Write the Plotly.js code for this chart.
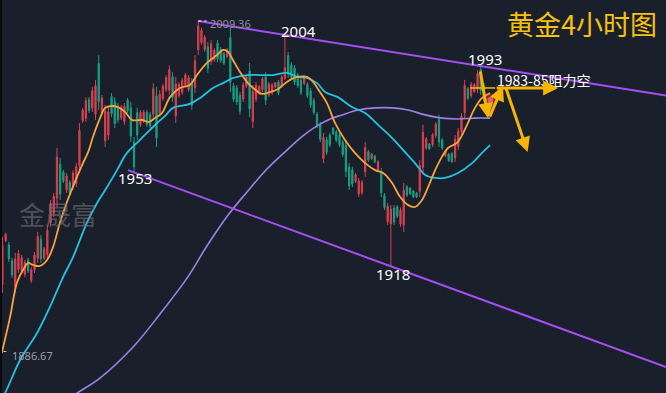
<!DOCTYPE html>
<html>
<head>
<meta charset="utf-8">
<script src="https://cdn.plot.ly/plotly-3.0.1.min.js"></script>
<style>html,body{margin:0;padding:0;background:#1a1f2c;}#chart{width:666px;height:393px;}</style>
</head>
<body>
<div id="chart"></div>
<script>
// ---- candle data (4h gold) ----
const open = [1911.5,1927.8,1926.2,1920.3,1910.6,1917.1,1916.8,1915.2,1920.6,1913.0,
1917.0,1921.2,1928.3,1921.3,1922.6,1934.4,1937.9,1943.6,1956.2,1953.3,
1946.6,1949.5,1947.7,1949.0,1955.7,1972.3,1973.3,1980.2,1977.0,1974.8,
1993.6,1975.6,1964.9,1967.0,1981.3,1979.4,1977.8,1973.4,1972.0,1980.0,
1977.1,1964.4,1975.3,1971.0,1972.2,1975.4,1974.7,1974.7,1981.6,1975.2,
1980.6,1983.9,1983.6,1988.7,1974.1,1981.7,1982.8,1985.7,1983.9,1986.4,
1984.7,1998.6,2001.4,1998.8,1999.9,1994.4,1994.9,2001.1,1998.8,1997.2,
1996.2,2003.2,1985.3,1984.5,1981.7,1980.4,1985.2,1990.8,1972.0,1980.4,
1982.5,1983.8,1988.6,1981.9,1982.6,1984.8,1986.7,1985.2,1988.0,1996.5,
1993.1,1991.9,1989.3,1987.3,1986.2,1985.8,1983.4,1979.8,1974.7,1970.8,
1958.3,1965.3,1967.0,1969.6,1968.2,1967.0,1964.3,1963.1,1955.1,1954.1,
1949.8,1945.1,1945.6,1953.4,1960.8,1958.2,1959.2,1954.0,1953.2,1944.6,
1934.8,1934.0,1939.9,1940.3,1934.0,1933.7,1947.8,1947.3,1946.2,1945.5,
1946.1,1955.0,1962.2,1963.7,1963.4,1966.8,1972.7,1965.2,1959.3,1959.9,
1960.1,1958.5,1962.7,1968.2,1975.4,1984.2,1981.7,1983.2,1983.9,1991.3,
1985.3];
const high = [1929.2,1930.7,1927.3,1921.4,1923.2,1924.3,1922.5,1920.6,1921.4,1918.0,
1923.6,1931.0,1929.9,1925.5,1933.6,1942.9,1945.5,1962.2,1958.5,1954.0,
1952.9,1950.3,1954.0,1956.6,1971.5,1977.1,1981.1,1981.1,1984.9,1987.5,
1996.7,1981.9,1978.2,1977.4,1982.6,1981.1,1978.9,1978.2,1978.9,1980.8,
1979.3,1966.3,1977.1,1976.3,1976.3,1976.3,1975.6,1986.3,1984.9,1983.7,
1986.0,1989.3,1993.0,1990.4,1988.6,1986.7,1988.2,1990.1,1989.3,1988.2,
1996.7,2009.36,2006.8,2004.2,2001.6,2002.3,1999.3,2002.3,1999.7,1997.9,
1999.3,2006.8,1986.3,1985.6,1983.0,1986.7,1989.3,1993.8,1985.6,1986.7,
1985.6,1988.6,1990.4,1986.7,1986.3,1986.7,1987.5,1989.3,2004.0,1997.9,
1994.1,1993.0,1990.1,1988.2,1989.3,1986.7,1984.5,1980.8,1975.6,1971.9,
1967.8,1966.3,1967.8,1970.0,1968.9,1967.8,1965.2,1965.2,1956.6,1955.2,
1952.9,1951.1,1950.3,1964.4,1961.5,1960.4,1959.6,1957.8,1954.8,1945.5,
1941.8,1941.0,1941.0,1941.0,1940.2,1949.2,1948.5,1947.7,1946.6,1945.9,
1957.8,1970.8,1966.3,1964.1,1967.8,1971.9,1974.5,1965.9,1961.5,1960.4,
1960.7,1967.0,1969.6,1975.2,1987.5,1984.9,1986.7,1986.3,1991.2,1993.0,
1986.3];
const low = [1908.4,1927.3,1919.9,1914.0,1908.4,1915.8,1915.8,1914.3,1915.8,1912.1,
1915.8,1919.5,1919.5,1920.6,1920.6,1932.9,1936.6,1940.3,1942.9,1949.2,
1945.5,1944.8,1946.6,1947.7,1952.9,1971.5,1971.9,1975.2,1975.6,1972.6,
1976.3,1974.5,1962.6,1965.2,1973.7,1969.6,1971.5,1972.6,1970.8,1975.2,
1964.4,1953.3,1965.2,1970.0,1971.5,1970.0,1969.6,1972.6,1962.6,1973.7,
1979.7,1983.0,1981.9,1979.3,1971.5,1980.8,1981.9,1984.9,1983.0,1976.3,
1982.6,1996.7,2000.5,1997.9,1990.1,1993.0,1994.1,1994.1,1993.8,1993.0,
1995.6,1983.0,1979.3,1978.2,1974.5,1979.3,1984.5,1973.7,1969.6,1979.3,
1981.9,1983.0,1978.2,1981.1,1981.9,1984.5,1981.9,1984.5,1987.5,1988.2,
1987.5,1985.6,1984.5,1981.9,1985.6,1980.8,1977.1,1974.5,1969.6,1964.4,
1956.6,1959.6,1962.6,1967.0,1964.4,1962.6,1958.9,1951.4,1946.6,1947.7,
1949.2,1944.0,1944.8,1951.4,1957.0,1957.8,1956.6,1953.3,1944.0,1939.2,
1933.6,1918.0,1933.6,1936.2,1932.9,1931.0,1944.0,1944.8,1943.6,1943.6,
1944.0,1952.2,1961.5,1961.5,1962.6,1965.9,1962.6,1961.5,1958.9,1957.0,
1956.6,1957.0,1961.5,1967.0,1973.3,1980.0,1980.8,1982.6,1982.6,1981.9,
1979.3];
const close = [1926.1,1930.2,1921.0,1915.1,1921.0,1923.0,1921.5,1919.7,1916.6,1917.1,
1922.4,1929.3,1921.1,1924.8,1931.6,1941.4,1944.2,1958.9,1945.2,1949.9,
1951.8,1945.6,1952.9,1955.3,1968.7,1976.3,1979.7,1976.1,1983.5,1985.3,
1979.4,1980.8,1975.9,1975.6,1975.0,1971.3,1972.6,1977.4,1977.7,1976.0,
1966.6,1955.2,1967.0,1975.4,1975.6,1971.0,1970.5,1984.2,1965.9,1982.2,
1985.1,1988.4,1991.3,1981.0,1986.0,1985.8,1987.3,1989.3,1988.4,1978.1,
1994.6,2007.5,2005.9,2003.3,1991.8,2000.9,1998.5,1995.3,1994.7,1993.7,
1998.7,1986.6,1980.3,1979.3,1975.8,1985.6,1988.6,1976.7,1983.2,1985.6,
1985.0,1987.8,1980.0,1985.9,1985.6,1986.4,1982.7,1988.6,1992.0,1989.7,
1988.5,1986.7,1985.3,1982.8,1988.8,1981.7,1978.2,1975.4,1970.5,1965.5,
1966.1,1960.6,1963.4,1967.5,1965.1,1963.4,1959.8,1953.5,1948.1,1948.8,
1952.3,1950.0,1949.5,1962.4,1957.7,1960.0,1957.1,1957.1,1945.6,1940.1,
1940.6,1939.5,1934.7,1936.9,1939.1,1946.5,1944.7,1945.2,1944.1,1944.0,
1955.7,1968.0,1965.6,1961.9,1967.0,1971.0,1964.4,1962.2,1961.1,1957.5,
1957.2,1965.5,1968.4,1974.0,1985.4,1980.7,1985.8,1985.8,1989.9,1983.6,
1980.3];

// ---- moving averages ----
const maFastX = [-0.2,2.4,4.5,6.4,8.0,9.5,11.7,13.9,15.8,17.9,20.1,23.2,25.1,26.7,28.2,30.4,32.0,34.1,36.0,38.2,40.4,43.5,45.7,47.5,49.7,52.2,55.3,58.4,60.6,63.7,66.8,68.7,70.3,71.8,74.0,76.2,78.1,80.9,83.4,85.9,87.4,89.6,91.8,94.9,96.8,98.9,101.1,103.6,106.7,109.8,113.0,116.1,118.6,121.4,123.9,126.4,128.5,130.7,132.6,134.8,136.9,138.8,141.6,143.2,145.0,147.2,149.4,151.9];
const maFastY = [1886.1,1899.5,1912.1,1916.9,1919.5,1918.8,1918.4,1920.6,1925.5,1934.4,1942.1,1951.4,1956.6,1960.7,1966.3,1973.3,1977.1,1977.8,1977.4,1975.6,1972.6,1972.6,1971.9,1973.3,1975.2,1981.1,1984.5,1985.6,1989.3,1993.8,1996.7,1998.6,1997.9,1994.9,1990.4,1986.7,1984.5,1982.3,1983.0,1984.1,1985.6,1987.5,1988.6,1988.6,1986.7,1983.0,1978.9,1971.5,1965.2,1960.4,1956.6,1954.0,1952.9,1949.2,1944.0,1941.0,1940.3,1942.9,1947.7,1954.0,1958.9,1962.2,1964.1,1967.0,1971.5,1977.1,1980.8,1982.6];
const maMidX = [-0.75,0.8,5.5,10.8,14.8,18.9,22.0,26.4,29.5,32.6,35.7,38.8,41.9,45.0,48.2,50.7,53.1,58.4,61.6,65.6,68.7,71.8,76.2,80.2,84.3,88.7,91.8,94.9,98.0,100.5,104.5,108.9,113.0,117.0,121.4,125.4,128.5,131.7,134.8,137.9,141.9,146.3,149.4,151.9];
const maMidY = [1868.6,1871.2,1883.5,1893.5,1903.2,1914.3,1921.7,1934.7,1941.8,1947.7,1954.0,1960.4,1964.1,1967.8,1971.5,1974.1,1977.1,1978.6,1980.8,1984.5,1986.3,1988.2,1989.3,1989.3,1989.3,1990.1,1988.6,1988.2,1986.3,1983.0,1981.1,1977.4,1975.2,1970.8,1965.9,1960.7,1956.6,1952.2,1951.1,1951.1,1952.9,1956.6,1960.4,1963.3];
const maSlowX = [21.1,23.2,30.4,40.7,49.1,57.5,63.7,70.3,76.2,82.4,88.7,93.6,98.0,102.1,105.8,110.8,116.1,121.4,126.4,131.7,136.9,141.9,147.2,151.9];
const maSlowY = [1869.4,1871.2,1876.8,1888.3,1900.6,1913.9,1925.8,1937.3,1945.9,1954.4,1961.5,1966.7,1970.4,1973.0,1974.5,1976.3,1977.1,1977.1,1976.3,1974.5,1973.3,1973.0,1973.3,1973.3];

// ---- trend lines [x0, y0, x1, y1] ----
const upperTrend = [60.9, 2009.36, 206.7, 1981.7];
const lowerTrend = [39.1, 1954.0, 206.7, 1880.9];

// ---- labels ----
const priceLabels = ["2004", "1953", "1918", "1993"];
const priceLabelX = [92.1, 41.3, 121.7, 150.3];
const priceLabelY = [2005.6, 1951.1, 1915.4, 1995.3];

// ---- projected path arrows: [tailX, tailY, headX, headY] ----
const arrows = [
  [148.8, 1991.2, 151.3, 1973.3],
  [151.6, 1973.3, 155.9, 1985.3],
  [156.6, 1985.3, 163.6, 1960.7],
  [153.5, 1984.5, 173.1, 1984.5]
];
const resistLine = [145.7, 153.5, 1984.5];
const glowPoint = [152.0, 1980.0];

const idx = open.map((_, i) => i);

const traces = [
  {
    type: 'candlestick', x: idx, open: open, high: high, low: low, close: close,
    increasing: {line: {color: '#d8424f', width: 1}, fillcolor: '#d8424f'},
    decreasing: {line: {color: '#17a084', width: 1}, fillcolor: '#17a084'},
    whiskerwidth: 0, hoverinfo: 'skip', showlegend: false
  },
  {type: 'scatter', mode: 'lines', x: maSlowX, y: maSlowY, line: {color: '#9e80e8', width: 1.6, shape: 'spline'}, hoverinfo: 'skip', showlegend: false},
  {type: 'scatter', mode: 'lines', x: maMidX, y: maMidY, line: {color: '#22c3df', width: 1.8, shape: 'spline'}, hoverinfo: 'skip', showlegend: false},
  {type: 'scatter', mode: 'lines', x: maFastX, y: maFastY, line: {color: '#f6a43f', width: 1.8, shape: 'spline'}, hoverinfo: 'skip', showlegend: false},
  {type: 'scatter', mode: 'markers', x: [glowPoint[0]], y: [glowPoint[1]], marker: {color: 'rgba(255,80,90,0.35)', size: 13}, hoverinfo: 'skip', showlegend: false},
  {type: 'scatter', mode: 'markers', x: [glowPoint[0]], y: [glowPoint[1]], marker: {color: 'rgba(255,95,105,0.9)', size: 6}, hoverinfo: 'skip', showlegend: false}
];

const shapes = [
  {type: 'line', xref: 'x', yref: 'y', x0: upperTrend[0], y0: upperTrend[1], x1: upperTrend[2], y1: upperTrend[3], line: {color: '#a54ff2', width: 2}},
  {type: 'line', xref: 'x', yref: 'y', x0: lowerTrend[0], y0: lowerTrend[1], x1: lowerTrend[2], y1: lowerTrend[3], line: {color: '#a54ff2', width: 2}},
  {type: 'line', xref: 'x', yref: 'y', x0: 61, y0: 2009.36, x1: 63.6, y1: 2009.36, line: {color: '#ffffff', width: 1, dash: 'dot'}},
  {type: 'line', xref: 'x', yref: 'y', x0: 0.3, y0: 1886.67, x1: 2.2, y1: 1886.67, line: {color: '#cccccc', width: 1, dash: 'dot'}},
  {type: 'line', xref: 'x', yref: 'y', x0: resistLine[0], y0: resistLine[2], x1: resistLine[1], y1: resistLine[2], line: {color: '#f7b500', width: 1.5}},
  {type: 'rect', xref: 'paper', yref: 'paper', x0: 0, x1: 0.003, y0: 0, y1: 1, fillcolor: '#0a0c10', line: {width: 0}}
];

const annotations = [];
priceLabels.forEach((t, i) => annotations.push({
  x: priceLabelX[i], y: priceLabelY[i], xref: 'x', yref: 'y', text: t, showarrow: false,
  font: {family: 'Noto Sans, DejaVu Sans, sans-serif', size: 15, color: '#ffffff'}
}));
annotations.push({x: 64.0, y: 2008.3, xref: 'x', yref: 'y', xanchor: 'left', text: '2009.36', showarrow: false,
  font: {family: 'Noto Sans, sans-serif', size: 11, color: '#8d919a'}});
annotations.push({x: 2.4, y: 1885.0, xref: 'x', yref: 'y', xanchor: 'left', text: '1886.67', showarrow: false,
  font: {family: 'Noto Sans, sans-serif', size: 11, color: '#9a9ea6'}});
annotations.push({x: 153.5, y: 1987.6, xref: 'x', yref: 'y', xanchor: 'left', text: '1983-85阻力空', showarrow: false,
  font: {family: 'Noto Sans CJK SC, Noto Sans, sans-serif', size: 14, color: '#ffffff'}});
annotations.push({x: 0.99, y: 0.94, xref: 'paper', yref: 'paper', xanchor: 'right', yanchor: 'middle', text: '黄金4小时图', showarrow: false,
  font: {family: 'Noto Sans CJK SC, sans-serif', size: 27, color: '#f5c20c'}});
annotations.push({x: 0.026, y: 0.458, xref: 'paper', yref: 'paper', xanchor: 'left', yanchor: 'middle', text: '金晟富', showarrow: false,
  font: {family: 'Noto Sans CJK SC, sans-serif', size: 26, color: 'rgba(115,115,118,0.6)'}});
arrows.forEach(a => annotations.push({
  x: a[2], y: a[3], ax: a[0], ay: a[1], xref: 'x', yref: 'y', axref: 'x', ayref: 'y',
  text: '', showarrow: true, arrowhead: 2, arrowsize: 1, arrowwidth: 3, arrowcolor: '#f7b500', standoff: 0, startstandoff: 0
}));

const layout = {
  width: 666, height: 393,
  margin: {l: 0, r: 0, t: 0, b: 0},
  paper_bgcolor: '#1a1f2c', plot_bgcolor: '#1a1f2c',
  boxgap: 0.45,
  xaxis: {range: [-0.75, 206.7], visible: false, showgrid: false, zeroline: false, rangeslider: {visible: false}, fixedrange: true},
  yaxis: {range: [1871.24, 2017.16], visible: false, showgrid: false, zeroline: false, fixedrange: true},
  shapes: shapes,
  annotations: annotations,
  showlegend: false,
  hovermode: false
};

Plotly.newPlot('chart', traces, layout, {displayModeBar: false, staticPlot: true});
</script>
</body>
</html>
